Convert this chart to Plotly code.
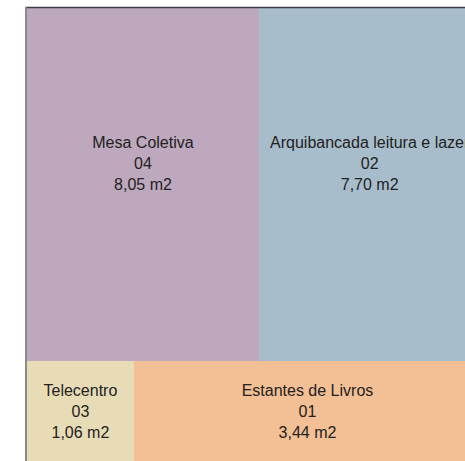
import plotly.graph_objects as go

groups = ["top", "bottom"]
labels = ["Mesa Coletiva", "Arquibancada leitura e lazer", "Telecentro", "Estantes de Livros"]
group_of = ["top", "top", "bottom", "bottom"]
codes = ["04", "02", "03", "01"]
areas = [8.05, 7.70, 1.06, 3.44]
area_text = ["8,05 m2", "7,70 m2", "1,06 m2", "3,44 m2"]
colors = ["#bea8bd", "#a8bdcb", "#e8dcb6", "#f3bf94"]

W, H = 454, 454
L, T = 27, 8

group_vals = [sum(a for a, g in zip(areas, group_of) if g == gr) for gr in groups]
ids = groups + labels
parents = [""] * len(groups) + group_of
values = group_vals + areas


def label_text(l, c, a, g):
    s = f"{l}<br>{c}<br>{a}"
    if g == "top":
        s += "<br>&nbsp;<br>&nbsp;"
    return s


texts = [""] * len(groups) + [label_text(l, c, a, g) for l, c, a, g in zip(labels, codes, area_text, group_of)]
node_colors = ["rgba(0,0,0,0)"] * len(groups) + colors

fig = go.Figure(go.Treemap(
    ids=ids,
    labels=[""] * len(groups) + labels,
    parents=parents,
    values=values,
    branchvalues="total",
    text=texts,
    texttemplate="%{text}",
    textposition="middle center",
    marker=dict(colors=node_colors, line=dict(width=0), pad=dict(t=0, l=0, r=0, b=0)),
    textfont=dict(family="Liberation Sans, Arial", size=16, color="#222222"),
    pathbar=dict(visible=False),
    sort=False,
    tiling=dict(packing="dice-slice", pad=0),
    hoverinfo="none",
    root=dict(color="rgba(0,0,0,0)"),
))

fig.update_layout(
    width=L + W, height=T + H,
    margin=dict(l=L, r=0, t=T, b=0),
    paper_bgcolor="white",
    shapes=[
        dict(type="line", xref="paper", yref="paper", x0=-2 / W, x1=1.05,
             y0=1 + 0.5 / H, y1=1 + 0.5 / H, line=dict(color="#3a3f4a", width=1.5)),
        dict(type="line", xref="paper", yref="paper", x0=-1 / W, x1=-1 / W,
             y0=-0.05, y1=1 + 1 / H, line=dict(color="#8a8a8a", width=2)),
    ],
)

fig.write_html("out.html", config={"displayModeBar": False},
               post_script="document.body.style.margin='0';document.body.style.overflow='hidden';")
